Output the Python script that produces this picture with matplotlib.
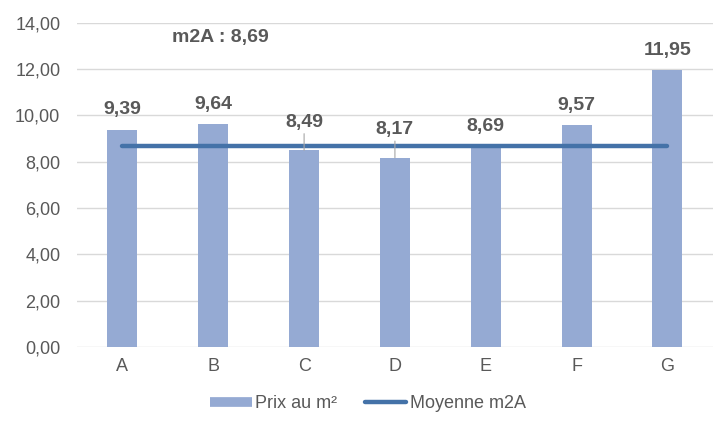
import matplotlib.pyplot as plt
from matplotlib.lines import Line2D

categories = ["A", "B", "C", "D", "E", "F", "G"]
prix = [9.39, 9.64, 8.49, 8.17, 8.69, 9.57, 11.95]
moyenne = 8.69
yticks = [0, 2, 4, 6, 8, 10, 12, 14]

bar_color = "#95AAD3"
line_color = "#4472A8"
text_color = "#595959"
grid_color = "#D9D9D9"

plt.rcParams['font.family'] = ['Liberation Sans', 'DejaVu Sans']

fig = plt.figure(figsize=(7.2, 4.22), dpi=100)
ax = fig.add_axes([0.107, 0.178, 0.883, 0.768])

x = list(range(len(categories)))
ax.bar(x, prix, width=0.33, color=bar_color, zorder=2)
ax.plot([x[0], x[-1]], [moyenne, moyenne], color=line_color, linewidth=3.2,
        solid_capstyle='round', zorder=3)

def fmt(v):
    return f"{v:.2f}".replace(".", ",")

for xi, v in zip(x, prix):
    if v < moyenne:
        ax.annotate(fmt(v), xy=(xi, v), xytext=(0, 14), textcoords='offset points',
                    ha='center', va='bottom', fontsize=14, fontweight='bold',
                    color=text_color, zorder=4,
                    arrowprops=dict(arrowstyle='-', color='#A6A6A6', lw=0.8,
                                    shrinkA=0, shrinkB=0))
    else:
        ax.annotate(fmt(v), xy=(xi, v), xytext=(0, 8), textcoords='offset points',
                    ha='center', va='bottom', fontsize=14, fontweight='bold',
                    color=text_color, zorder=4)

ax.text(1.074, 13.35, "m2A : " + fmt(moyenne), ha='center', va='center',
        fontsize=14, fontweight='bold', color=text_color)

ax.set_xlim(-0.5, len(categories) - 0.5)
ax.set_ylim(0, 14)
ax.set_yticks(yticks)
ax.set_yticklabels([fmt(t) for t in yticks])
ax.set_xticks(x)
ax.set_xticklabels(categories)
ax.tick_params(axis='both', length=0, labelsize=13, colors=text_color)
ax.tick_params(axis='y', pad=12)
ax.tick_params(axis='x', pad=8)
ax.grid(axis='y', color=grid_color, linewidth=1, zorder=0)
for s in ax.spines.values():
    s.set_visible(False)

handles = [Line2D([0], [0], color=bar_color, linewidth=7, solid_capstyle='butt'),
           Line2D([0], [0], color=line_color, linewidth=3.2, solid_capstyle='round')]
fig.legend(handles, ["Prix au m²", "Moyenne m2A"], loc='center',
           bbox_to_anchor=(368 / 720, 1 - 404 / 422), ncol=2, frameon=False,
           fontsize=13, labelcolor=text_color, handlelength=2.3,
           handletextpad=0.2, columnspacing=1.5)

fig.savefig("out.png", dpi=100)
